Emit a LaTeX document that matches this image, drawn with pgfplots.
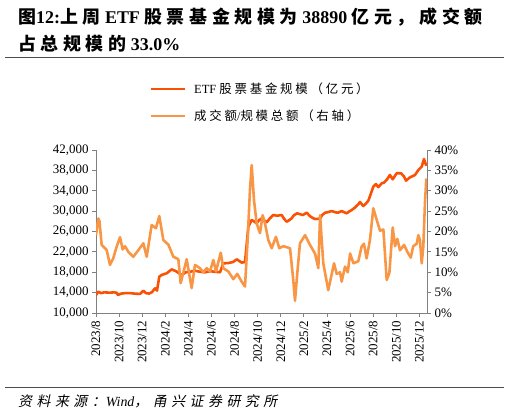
\documentclass[border=0pt]{standalone}
\usepackage{pgfplots}
\pgfplotsset{compat=1.18}
\usepackage{fontspec}
\setmainfont{Liberation Serif}
\newfontfamily\cjktitle{Noto Sans CJK SC}[LetterSpace=26]
\newfontfamily\cjkleg{Noto Sans CJK SC}[LetterSpace=22]
\newfontfamily\cjkit{Noto Sans CJK SC}[FakeSlant=0.2, LetterSpace=32]
\definecolor{etf}{RGB}{250,82,5}
\definecolor{ratio}{RGB}{248,150,70}
\definecolor{axgray}{RGB}{128,128,128}

% ETF equity fund size (100m yuan); x = months since 2023/8
\pgfplotstableread{
m v
0 13530
0.2 14180
0.43 13900
0.69 14050
1.21 14000
1.56 14050
1.79 13980
1.9 13530
2.16 13800
2.51 13900
2.94 13900
3.38 13800
3.81 13750
4.1 14380
4.33 13900
4.59 13800
4.85 14100
5.11 14850
5.28 14400
5.48 17130
5.71 17500
6.12 17790
6.55 18570
6.93 18200
7.42 17460
7.79 18000
8.14 18100
8.57 18300
9.0 18100
9.44 18000
9.87 18200
10.3 18100
10.74 18000
11.02 19750
11.43 19800
11.86 20000
12.18 20540
12.61 19900
12.9 20000
13.19 26940
13.48 28260
13.68 28000
13.91 27600
14.11 28200
14.35 28590
14.55 28200
14.78 27800
15.06 28600
15.35 29240
15.67 29100
16.08 29240
16.28 28500
16.51 27920
16.71 28200
16.94 28590
17.14 29200
17.42 29570
17.66 29400
17.92 29240
18.24 29700
18.53 29000
18.81 28600
18.96 28460
19.25 28500
19.39 28460
19.57 29200
19.83 29690
20.09 29800
20.41 30020
20.69 29800
20.95 29690
21.27 30020
21.47 29800
21.71 29570
21.9 29900
22.14 30220
22.42 30700
22.71 31340
22.86 31790
23.14 31000
23.38 31500
23.58 32050
23.81 33500
24.01 34800
24.24 35320
24.44 34700
24.74 35460
24.94 35600
25.19 36200
25.45 37090
25.69 36250
26.03 37430
26.41 37430
26.67 36800
26.84 35990
27.19 36640
27.45 36900
27.62 37090
27.91 38070
28.2 38720
28.4 40230
28.6 38890
}\etftable

% turnover / total size (%)
\pgfplotstableread{
m v
0 19.1
0.2 23.2
0.3 22.5
0.49 16.7
0.92 15.5
1.21 11.8
1.5 13.5
1.79 16.3
2.08 18.6
2.31 15.6
2.51 16.4
2.8 15.0
3.23 13.8
3.66 15.4
4.1 17.1
4.39 13.8
4.82 21.6
5.19 20.8
5.48 23.8
5.83 17.9
6.26 16.8
6.7 13.8
7.13 13.2
7.33 7.3
7.85 13.2
8.28 6.1
8.57 11.8
9.0 11.0
9.29 10.0
9.58 11.0
9.87 10.2
10.16 13.0
10.39 10.2
10.8 14.8
11.02 11.0
11.46 10.2
11.89 8.3
12.23 9.6
12.61 7.7
12.9 6.5
13.13 17.9
13.33 30.2
13.48 36.3
13.68 27.7
13.91 22.0
14.2 19.6
14.43 24.0
14.63 22.0
14.92 17.9
15.21 15.9
15.58 18.7
15.87 15.9
16.22 16.4
16.8 15.9
17.08 8.1
17.23 3.0
17.43 9.8
17.66 17.1
18.1 19.1
18.53 16.7
18.96 14.6
19.25 11.0
19.4 24.0
19.68 12.2
20.11 5.6
20.61 12.2
20.84 9.6
21.13 10.0
21.27 7.7
21.56 11.4
21.8 10.0
22.0 14.6
22.29 12.2
22.71 12.7
23.0 16.3
23.2 17.0
23.43 13.4
23.72 17.9
24.01 25.7
24.3 22.9
24.59 20.2
24.88 20.5
25.17 8.1
25.4 9.8
25.69 21.0
25.89 16.4
26.09 18.2
26.32 15.4
26.67 16.7
27.04 14.6
27.25 13.6
27.47 16.4
27.77 17.0
27.91 19.1
28.05 17.9
28.2 12.2
28.34 16.3
28.48 26.9
28.6 33.0
}\ratiotable

\pgfplotsset{
  base/.style={
    at={(0,0)}, anchor=south west,
    width=331bp, height=163bp, scale only axis,
    xmin=0, xmax=28.66,
    axis line style={axgray, line width=0.8pt},
    major tick style={axgray, line width=0.8pt},
    major tick length=4bp,
    tick align=outside,
    ticklabel style={font=\fontsize{13}{14}\selectfont},
    scaled y ticks=false,
    /pgf/number format/assume math mode=true,
  }
}

\begin{document}
\begin{tikzpicture}
% page frame: axis corner sits at (96bp,101bp) of a 509bp x 414bp page
\begin{scope}[x=1bp, y=1bp, shift={(-96bp,-101bp)}]
\path[use as bounding box] (0,0) rectangle (509,414);

\node[anchor=base west, inner sep=0, font=\fontsize{18}{20}\selectfont\bfseries]
  at (18,391) {{\cjktitle 图}12:{\cjktitle 上周}\ ETF\ {\cjktitle 股票基金规模为}\ 38890\ {\cjktitle 亿元，成交额}};
\node[anchor=base west, inner sep=0, font=\fontsize{18}{20}\selectfont\bfseries]
  at (18,364) {{\cjktitle 占总规模的}\ 33.0\%};
\draw[black!70, line width=0.8pt] (5,357) -- (504,357);

\draw[etf, line width=3pt] (151,325) -- (185,325);
\node[anchor=west, inner sep=0, font=\fontsize{12.5}{13}\selectfont] at (194,325) {ETF {\cjkleg 股票基金规模（亿元）}};
\draw[ratio, line width=3pt] (151,298) -- (185,298);
\node[anchor=west, inner sep=0, font=\fontsize{12.5}{13}\selectfont] at (194,298) {{\cjkleg 成交额}/{\cjkleg 规模总额（右轴）}};

\draw[black!70, line width=0.8pt] (5,27) -- (504,27);
\node[anchor=base west, inner sep=0, font=\fontsize{14}{15}\selectfont\itshape]
  at (18,8) {{\cjkit 资料来源：}Wind{\cjkit ，甬兴证券研究所}};
\end{scope}

\begin{axis}[base,
  axis x line*=bottom, axis y line*=left,
  ymin=10000, ymax=42000,
  ytick={10000,14000,...,42000},
  yticklabel style={/pgf/number format/1000 sep={,}},
  xtick={0,2,...,28},
  xticklabels={2023/8,2023/10,2023/12,2024/2,2024/4,2024/6,2024/8,2024/10,2024/12,2025/2,2025/4,2025/6,2025/8,2025/10,2025/12},
  xticklabel style={rotate=90, anchor=east},
]
\addplot[etf, line width=2.6pt, line join=round] table[x=m, y=v] {\etftable};
\end{axis}

\begin{axis}[base,
  axis x line=none, axis y line*=right,
  ymin=0, ymax=40,
  ytick={0,5,...,40},
  yticklabel={\pgfmathprintnumber{\tick}\%},
]
\addplot[ratio, line width=2.6pt, line join=round] table[x=m, y=v] {\ratiotable};
\end{axis}
\end{tikzpicture}
\end{document}
